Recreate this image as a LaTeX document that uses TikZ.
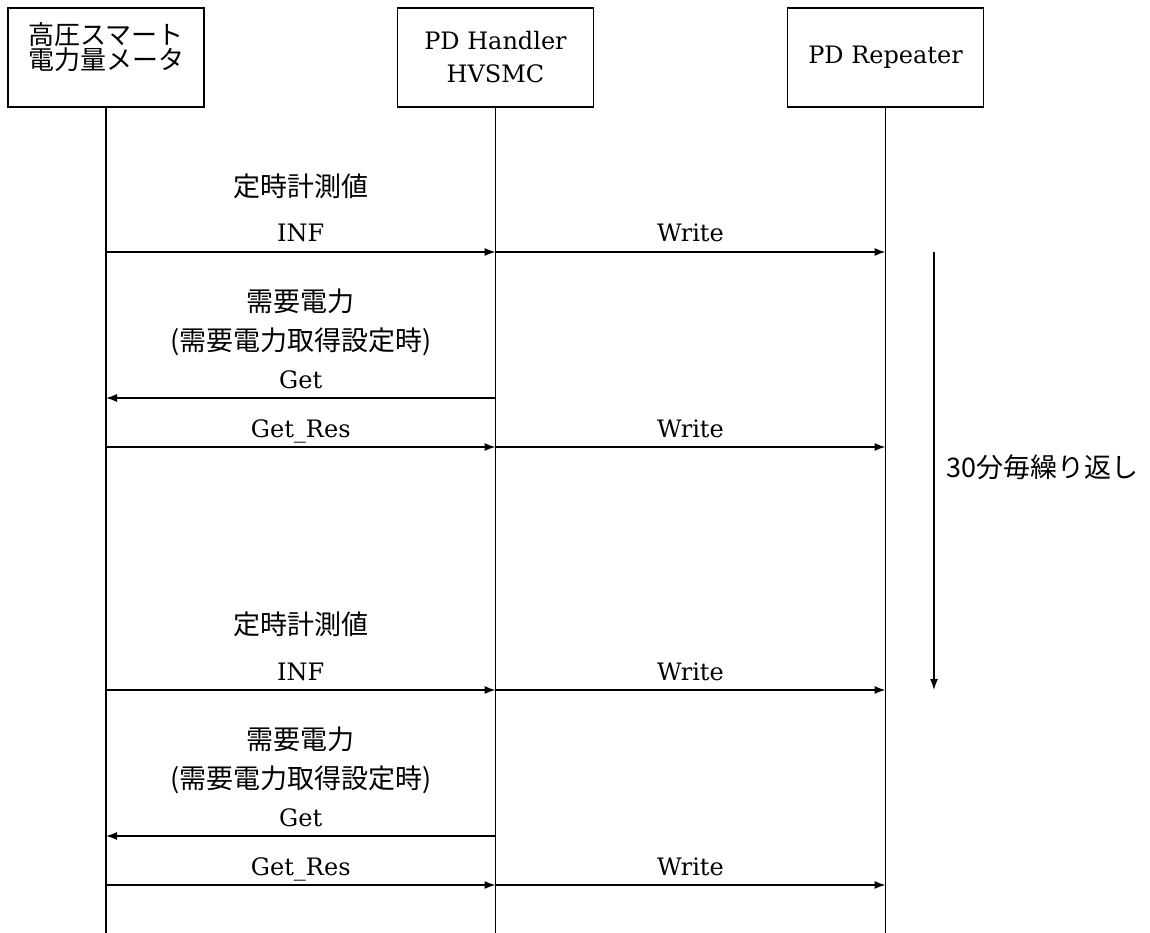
\documentclass[tikz,border=0pt]{standalone}
\usepackage{fontspec}
\setmainfont{DejaVu Serif}
\newfontfamily\jpfont{Noto Sans CJK JP}
\usetikzlibrary{positioning,arrows.meta,calc}
\begin{document}
\begin{tikzpicture}[x=1pt,y=1pt,
actor/.style={
  draw,
  line width=1.4pt,
  minimum width=196pt,
  minimum height=99pt,
  inner sep=0pt},
life/.style={
  line width=1.4pt},
msg/.style={
  line width=1.4pt,
  -{Latex[length=11pt,width=8pt]}},
lat/.style={
  font=\fontsize{24}{33}\selectfont,
  align=center,
  inner sep=0pt},
jp/.style={
  font=\jpfont\fontsize{27}{41}\selectfont,
  align=center,
  inner sep=0pt}
]
\useasboundingbox (0,0) rectangle (1150,-933);
% actors
\node[actor] (meter) at (106,-57.5) {};
\node[actor,lat] (hub) at (495.5,-57.5) {PD Handler\\HVSMC};
\node[actor,lat] (rep) at (885.5,-57.5) {PD Repeater};
\node[jp,font=\jpfont\fontsize{26}{21}\selectfont] at ($(meter)+(0,10)$) {高圧スマート\\電力量メータ};
\coordinate (bottom) at (0,-933);
\foreach \Nodo in {meter,hub,rep}
  \draw[life] (\Nodo.south) -- (\Nodo.south |- bottom);
\coordinate (mA) at ($(meter.south)!.5!(hub.south)$);
\coordinate (mB) at ($(hub.south)!.5!(rep.south)$);
% two rounds of messages
\foreach \dy in {0,438} {
  \coordinate (inf) at (0,-252-\dy);
  \coordinate (get) at (0,-398-\dy);
  \coordinate (res) at (0,-447-\dy);
  \draw[msg] (meter |- inf) -- (hub |- inf);
  \draw[msg] (hub |- inf) -- (rep |- inf);
  \draw[msg] (hub |- get) -- (meter |- get);
  \draw[msg] (meter |- res) -- (hub |- res);
  \draw[msg] (hub |- res) -- (rep |- res);
  \node[jp,yshift=66pt] at (mA |- inf) {定時計測値};
  \node[lat,anchor=base,yshift=10pt] at (mA |- inf) {INF};
  \node[lat,anchor=base,yshift=10pt] at (mB |- inf) {Write};
  \node[jp,yshift=97pt] at (mA |- get) {需要電力};
  \node[jp,yshift=56pt] at (mA |- get) {(需要電力取得設定時)};
  \node[lat,anchor=base,yshift=10pt] at (mA |- get) {Get};
  \node[lat,anchor=base,yshift=10pt] at (mA |- res) {Get\_Res};
  \node[lat,anchor=base,yshift=10pt] at (mB |- res) {Write};
}
% repeat marker
\coordinate (loopTop) at (934,-252);
\coordinate (loopEnd) at (934,-690);
\draw[msg] (loopTop) -- (loopEnd) node[jp,midway,right=12pt,yshift=4pt] {30分毎繰り返し};
\end{tikzpicture}
\end{document}
